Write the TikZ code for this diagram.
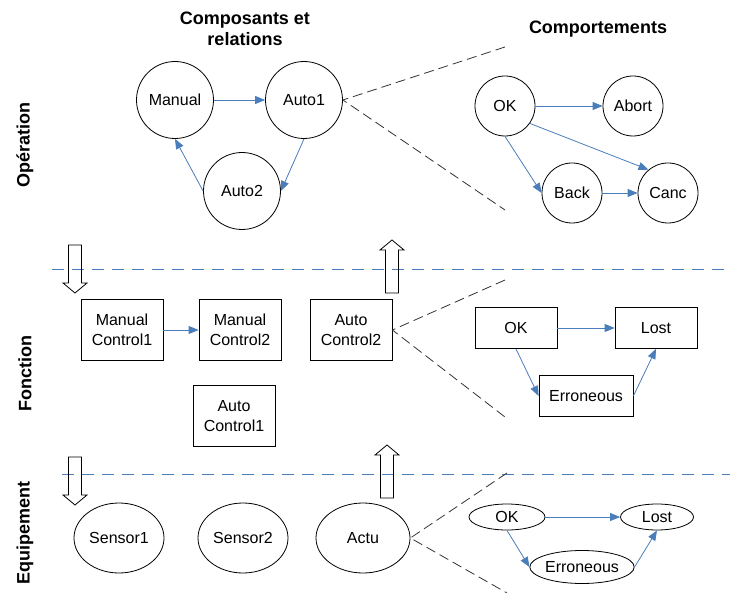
\documentclass[tikz,border=0pt]{standalone}
\usepackage{fontspec}
\setmainfont{Liberation Sans}
\usepackage{xcolor}
\usetikzlibrary{positioning,shapes.geometric,arrows.meta}
\definecolor{linkblue}{RGB}{74,126,187}

\begin{document}
\begin{tikzpicture}[x=1pt, y=-1pt, on grid,
    font=\fontsize{16}{20}\selectfont,
    state/.style={circle, draw, line width=0.8pt, minimum size=77pt, inner sep=0pt},
    mode/.style={circle, draw, line width=0.8pt, minimum size=60pt, inner sep=0pt},
    func/.style={rectangle, draw, line width=0.8pt, minimum width=82pt, minimum height=61pt, align=center},
    fmode/.style={rectangle, draw, line width=0.8pt, minimum width=82pt, minimum height=41pt},
    equip/.style={ellipse, draw, line width=0.8pt, minimum width=90pt, minimum height=70pt, inner sep=0pt},
    emode/.style={ellipse, draw, line width=0.8pt, minimum width=76pt, minimum height=26pt, inner sep=0pt},
    link/.style={draw=linkblue, line width=0.8pt, -{Triangle[length=10pt,width=8pt]}},
    zoomline/.style={draw=black!80, line width=0.8pt, dash pattern=on 10pt off 5pt},
    layer/.style={draw=linkblue, line width=1pt, dash pattern=on 12pt off 8pt},
    title/.style={font=\bfseries\fontsize{18}{21}\selectfont, align=center},
    level/.style={font=\bfseries\fontsize{18}{21}\selectfont, rotate=90},
    pics/blockarrow/.style={code={
      \draw[line width=0.8pt] (-6.5,0) -- (-6.5,#1-10) -- (-12,#1-10) -- (0,#1)
        -- (12,#1-10) -- (6.5,#1-10) -- (6.5,0) -- cycle;}}
  ]
    \useasboundingbox (0,0) rectangle (730,593);

    \node[title] (compo) at (245,29) {Composants et\\relations};
    \node[title] (compt) at (598,29) {Comportements};
    \node[level] (op) at (25,145) {Opération};
    \node[level] (fn) at (25,374) {Fonction};
    \node[level] (eq) at (25,533) {Equipement};

    \node[state] (manual) at (175,100) {Manual};
    \node[state, right=129pt of manual] (auto1) {Auto1};
    \node[state, below right=91pt and 67pt of manual] (auto2) {Auto2};

    \node[mode] (ok) at (505,106) {OK};
    \node[mode, right=128pt of ok] (abort) {Abort};
    \node[mode, below right=87pt and 67pt of ok] (back) {Back};
    \node[mode, right=96pt of back] (canc) {Canc};

    \node[func] (mc1) at (122,330) {Manual\\Control1};
    \node[func, right=118pt of mc1] (mc2) {Manual\\Control2};
    \node[func, right=111pt of mc2] (ac2) {Auto\\Control2};
    \node[func, below left=86pt and 6pt of mc2] (ac1) {Auto\\Control1};

    \node[fmode] (fok) at (516,328) {OK};
    \node[fmode, right=140pt of fok] (flost) {Lost};
    \node[fmode, minimum width=94pt, below right=68pt and 70pt of fok] (ferr) {Erroneous};

    \node[equip] (sensor1) at (119,538) {Sensor1};
    \node[equip, right=124pt of sensor1] (sensor2) {Sensor2};
    \node[equip, minimum width=94pt, right=120pt of sensor2] (actu) {Actu};

    \node[emode] (eok) at (507,517) {OK};
    \node[emode, minimum width=73pt, right=150pt of eok] (elost) {Lost};
    \node[emode, minimum width=100pt, minimum height=33pt, below right=50pt and 75pt of eok] (eerr) {Erroneous};

    \coordinate (op top) at (505,47);
    \coordinate (op bot) at (505,210);
    \coordinate (fn top) at (505,280);
    \coordinate (fn bot) at (505,417);
    \coordinate (eq top) at (507,473);
    \coordinate (eq bot) at (507,593);
    \coordinate (l1 start) at (52,269.5);
    \coordinate (l1 end) at (730,269.5);
    \coordinate (l2 start) at (62,474.5);
    \coordinate (l2 end) at (730,474.5);

    \draw[layer] (l1 start) -- (l1 end);
    \draw[layer] (l2 start) -- (l2 end);

    \pic at (75,245) {blockarrow=48};
    \pic[rotate=180] at (392,293) {blockarrow=53};
    \pic at (75,457) {blockarrow=48};
    \pic[rotate=180] at (387,498) {blockarrow=53};

    \draw[zoomline] (op top) -- (auto1.east) -- (op bot);
    \draw[zoomline] (fn top) -- (ac2.east) -- (fn bot);
    \draw[zoomline] (eq top) -- (actu.east) -- (eq bot);

    \draw[link] (manual) -- (auto1);
    \draw[link] (auto1.south) -- (auto2.east);
    \draw[link] (auto2.west) -- (manual.south);

    \draw[link] (ok) -- (abort);
    \draw[link] (ok.-35) -- (canc.130);
    \draw[link] (ok.south) -- (back.west);
    \draw[link] (back) -- (canc);

    \draw[link] (mc1) -- (mc2);
    \draw[link] (fok) -- (flost);
    \draw[link] (fok.south) -- (ferr.west);
    \draw[link] (ferr.east) -- (flost.south);

    \draw[link] (eok) -- (elost);
    \draw[link] (eok.south) -- (eerr.west);
    \draw[link] (eerr.east) -- (elost.south);
\end{tikzpicture}
\end{document}
